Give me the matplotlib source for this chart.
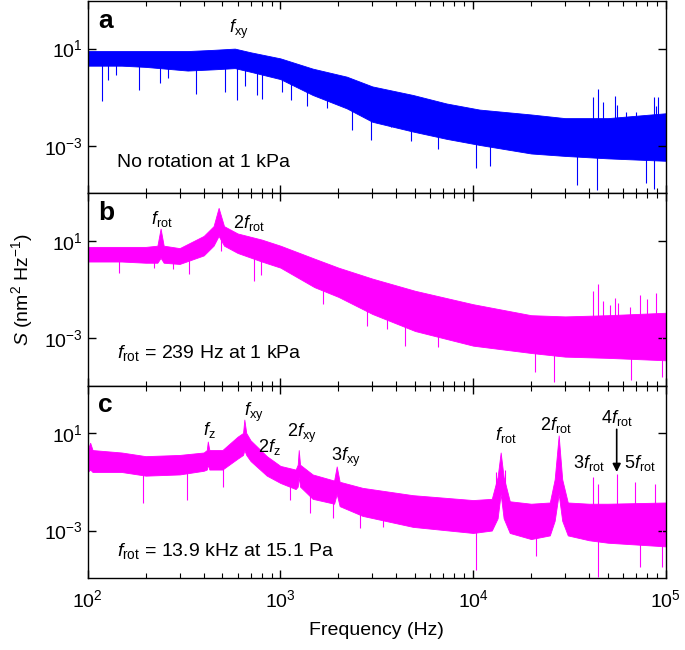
import numpy as np
import matplotlib.pyplot as plt

plt.rcParams['font.family'] = ['Liberation Sans', 'DejaVu Sans']
plt.rcParams['mathtext.fontset'] = 'custom'
plt.rcParams['mathtext.rm'] = 'Liberation Sans'
plt.rcParams['mathtext.it'] = 'Liberation Sans:italic'
plt.rcParams['mathtext.bf'] = 'Liberation Sans:bold'

# values are log10 of S (nm^2/Hz)
# panel a: no rotation at 1 kPa -- band top / bottom of the noisy spectrum
a_freq = [100, 150, 200, 330, 450, 580, 700, 1000, 1470, 2210, 3000, 4870, 7280, 10800, 2e4, 3e4, 5e4, 1e5]
a_top = [0.9, 0.9, 0.9, 0.9, 0.95, 1.0, 0.85, 0.6, 0.18, -0.15, -0.55, -0.9, -1.25, -1.5, -1.7, -1.85, -1.85, -1.65]
a_bot = [0.3, 0.3, 0.25, 0.1, 0.15, 0.2, 0.05, -0.25, -0.9, -1.45, -2.0, -2.4, -2.7, -2.95, -3.3, -3.4, -3.5, -3.6]
a_spk_f = [41700, 44600, 47000, 54300, 56000, 62000, 70000, 87000, 89000, 91000]
a_spk_y = [-1.0, -0.65, -1.2, -0.95, -1.3, -1.6, -1.6, -1.0, -1.35, -1.0]
a_dip_f = [118, 128, 140, 185, 236, 260, 363, 513, 594, 652, 752, 800, 1020, 1140, 1370, 1740, 2340,
           2970, 3730, 4780, 6550, 10400, 12200, 34600, 43700, 79000, 87000]
a_dip_y = [-1.16, -0.3, -0.1, -0.7, -0.43, -0.2, -0.88, -0.76, -1.1, -0.55, -0.9, -1.08, -0.77, -1.1, -1.37, -1.45, -2.35,
           -2.75, -2.2, -2.8, -3.1, -3.9, -3.8, -4.6, -4.8, -4.5, -4.75]

# panel b: f_rot = 239 Hz at 1 kPa
b_freq = [100, 150, 200, 230, 239, 248, 300, 400, 450, 478, 510, 600, 800, 1000, 1500, 2000, 3000, 5000, 1e4, 2e4, 3e4, 5e4, 1e5]
b_top = [0.75, 0.75, 0.75, 0.8, 1.5, 0.8, 0.7, 1.2, 1.6, 2.35, 1.6, 1.3, 1.05, 0.8, 0.27, -0.1, -0.55, -1.05, -1.6, -2.05, -2.1, -2.05, -1.95]
b_bot = [0.15, 0.15, 0.1, 0.1, 0.3, 0.1, 0.05, 0.4, 0.8, 1.2, 0.8, 0.5, 0.15, -0.1, -0.9, -1.3, -2.0, -2.7, -3.3, -3.6, -3.75, -3.8, -3.9]
b_spk_f = [41900, 44500, 47200, 51100, 54300, 56500, 65000, 73300, 79400, 89400]
b_spk_y = [-1.05, -0.76, -1.45, -1.65, -1.33, -1.57, -1.73, -1.24, -1.37, -1.12]
b_dip_f = [146, 222, 276, 337, 490, 730, 790, 1660, 2810, 3560, 4420, 6550, 20900, 26400, 66000, 95600]
b_dip_y = [-0.3, -0.1, -0.15, -0.35, 0.6, -0.63, -0.4, -1.6, -2.5, -2.6, -3.3, -3.37, -4.4, -4.8, -4.7, -4.6]

# panel c: f_rot = 13.9 kHz at 15.1 Pa
c_freq = [100, 103, 106, 150, 200, 300, 400, 415, 420, 428, 500, 600, 640, 650, 665, 700, 850, 1000, 1200,
          1230, 1245, 1265, 1470, 1900, 1960, 2030, 2670, 4870, 1e4, 12500, 13400, 13900, 14400, 15500,
          2e4, 25000, 26500, 27800, 29000, 31000, 4e4, 5e4, 1e5]
c_top = [0.3, 0.6, 0.3, 0.2, 0.05, 0.1, 0.2, 0.3, 0.65, 0.3, 0.3, 0.85, 1.0, 1.55, 1.0, 0.7, 0.05, -0.35, -0.5,
         -0.3, 0.3, -0.3, -0.7, -0.95, -0.37, -1.0, -1.25, -1.55, -1.75, -1.7, -0.8, 0.2, -0.8, -1.8,
         -1.9, -1.85, -0.9, 0.9, -0.9, -1.85, -1.9, -1.9, -1.85]
c_bot = [-0.6, -0.5, -0.6, -0.6, -0.75, -0.7, -0.55, -0.5, -0.3, -0.5, -0.5, -0.05, 0.1, 0.3, 0.1, -0.15, -0.75, -1.05, -1.3,
         -1.2, -0.8, -1.2, -1.7, -1.9, -1.5, -2.0, -2.4, -2.85, -3.1, -3.0, -2.5, -1.5, -2.5, -3.1,
         -3.35, -3.2, -2.6, -1.5, -2.6, -3.2, -3.4, -3.5, -3.65]
c_spk_f = [13200, 14600, 41700, 44500, 55600, 69500, 88000]
c_spk_y = [-0.6, -0.5, -0.8, -1.1, -0.7, -1.0, -1.1]
c_dip_f = [193, 326, 502, 1117, 1420, 1880, 2600, 3390, 10400, 21300, 44300, 73300, 95600]
c_dip_y = [-1.86, -1.73, -1.2, -1.73, -2.27, -2.47, -2.9, -2.84, -4.6, -4.06, -4.9, -4.5, -4.5]

BLUE = '#0000ff'
MAGENTA = '#ff00ff'


def draw_spectrum(ax, freq, top, bot, spk_f, spk_y, dip_f, dip_y, color):
    freq = np.asarray(freq)
    top = np.asarray(top)
    bot = np.asarray(bot)
    ax.fill_between(freq, 10.0 ** bot, 10.0 ** top, color=color, lw=0.6, edgecolor=color)
    # middle of the band, used to anchor spikes and dips inside it
    mid = (top + bot) / 2
    lf = np.log10(freq)
    spk_base = np.interp(np.log10(spk_f), lf, mid)
    ax.vlines(spk_f, 10.0 ** spk_base, 10.0 ** np.asarray(spk_y), color=color, lw=0.8)
    dip_base = np.interp(np.log10(dip_f), lf, mid)
    ax.vlines(dip_f, 10.0 ** np.asarray(dip_y), 10.0 ** dip_base, color=color, lw=0.8)


fig, axes = plt.subplots(3, 1, figsize=(6.85, 6.5), dpi=100, sharex=True)
fig.subplots_adjust(left=0.128, right=0.972, top=0.998, bottom=0.111, hspace=0)

draw_spectrum(axes[0], a_freq, a_top, a_bot, a_spk_f, a_spk_y, a_dip_f, a_dip_y, BLUE)
draw_spectrum(axes[1], b_freq, b_top, b_bot, b_spk_f, b_spk_y, b_dip_f, b_dip_y, MAGENTA)
draw_spectrum(axes[2], c_freq, c_top, c_bot, c_spk_f, c_spk_y, c_dip_f, c_dip_y, MAGENTA)

for ax in axes:
    ax.set_xscale('log')
    ax.set_yscale('log')
    ax.set_xlim(1e2, 1e5)
    ax.set_ylim(10 ** -4.94, 10 ** 2.94)
    ax.set_yticks([1e-3, 1e1])
    ax.yaxis.set_minor_locator(plt.NullLocator())
    ax.tick_params(which='both', direction='in', top=True, right=True, labelsize=14)
    ax.tick_params(which='major', length=6, width=1)
    ax.tick_params(which='minor', length=3.5, width=0.8)
    for s in ax.spines.values():
        s.set_linewidth(1)

axes[2].set_xticks([1e2, 1e3, 1e4, 1e5])
axes[2].tick_params(axis='x', pad=8)
axes[2].set_xlabel('Frequency (Hz)', fontsize=14, labelpad=8)

fig.text(0.032, 0.555, r'$S$ (nm$^2$ Hz$^{-1}$)', rotation=90, fontsize=14,
         ha='center', va='center')

# panel letters and conditions
for ax, letter in zip(axes, ['a', 'b', 'c']):
    ax.text(0.018, 0.9, letter, transform=ax.transAxes, fontsize=19, fontweight='bold',
            ha='left', va='center')
axes[0].text(0.05, 0.16, 'No rotation at 1 kPa', transform=axes[0].transAxes, fontsize=14,
             ha='left', va='center')
axes[1].text(0.05, 0.17, r'$f_{\rm rot}$ = 239 Hz at 1 kPa', transform=axes[1].transAxes,
             fontsize=14, ha='left', va='center')
axes[2].text(0.05, 0.14, r'$f_{\rm rot}$ = 13.9 kHz at 15.1 Pa', transform=axes[2].transAxes,
             fontsize=14, ha='left', va='center')

# peak labels
lab = dict(fontsize=13, ha='center', va='center')
axes[0].text(608, 10 ** 1.8, r'$f_{\rm xy}$', **lab)
axes[1].text(242, 10 ** 1.9, r'$f_{\rm rot}$', **lab)
axes[1].text(685, 10 ** 1.73, r'2$f_{\rm rot}$', **lab)
axes[2].text(430, 10 ** 1.12, r'$f_{\rm z}$', **lab)
axes[2].text(727, 10 ** 1.86, r'$f_{\rm xy}$', **lab)
axes[2].text(880, 10 ** 0.43, r'2$f_{\rm z}$', **lab)
axes[2].text(1290, 10 ** 1.0, r'2$f_{\rm xy}$', **lab)
axes[2].text(2180, 10 ** -0.02, r'3$f_{\rm xy}$', **lab)
axes[2].text(14800, 10 ** 0.92, r'$f_{\rm rot}$', **lab)
axes[2].text(26900, 10 ** 1.33, r'2$f_{\rm rot}$', **lab)
axes[2].text(39800, 10 ** -0.22, r'3$f_{\rm rot}$', **lab)
axes[2].text(55600, 10 ** 1.6, r'4$f_{\rm rot}$', **lab)
axes[2].text(73300, 10 ** -0.22, r'5$f_{\rm rot}$', **lab)
axes[2].annotate('', xy=(55600, 10 ** -0.6), xytext=(55600, 10 ** 1.15),
                 arrowprops=dict(arrowstyle='-|>', color='black', lw=1.2,
                                 mutation_scale=12, shrinkA=0, shrinkB=0))

fig.savefig('out.png', dpi=100)
